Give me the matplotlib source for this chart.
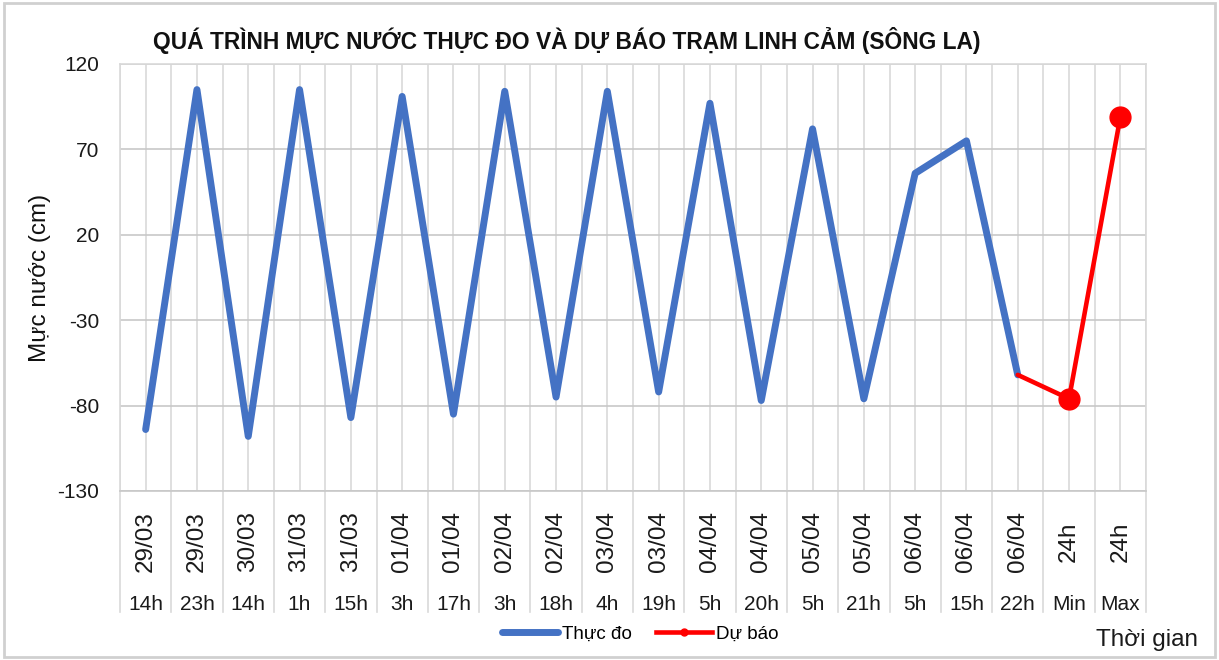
import matplotlib
matplotlib.use("Agg")
import matplotlib.pyplot as plt
import matplotlib.transforms as mtransforms
from matplotlib.lines import Line2D
from matplotlib.patches import Rectangle
import numpy as np

# ---- data ----
dates = ["29/03", "29/03", "30/03", "31/03", "31/03", "01/04", "01/04", "02/04",
         "02/04", "03/04", "03/04", "04/04", "04/04", "05/04", "05/04", "06/04",
         "06/04", "06/04", "24h", "24h"]
hours = ["14h", "23h", "14h", "1h", "15h", "3h", "17h", "3h", "18h", "4h",
         "19h", "5h", "20h", "5h", "21h", "5h", "15h", "22h", "Min", "Max"]
observed = [-94, 105, -98, 105, -87, 101, -85, 104, -75, 104, -72, 97, -77, 82,
            -76, 56, 75, -62]
forecast = [-62, -76, 89]          # from 06/04 22h to Min, Max
forecast_start = 17
yticks = [120, 70, 20, -30, -80, -130]

FONT = ["Liberation Sans", "DejaVu Sans"]
plt.rcParams["font.family"] = FONT

W, H = 1219, 660
fig = plt.figure(figsize=(W / 100, H / 100), dpi=100)
L, R, T, B = 120, 1146, 64, 491
ax = fig.add_axes([L / W, 1 - B / H, (R - L) / W, (B - T) / H])

n = len(hours)
x_obs = np.arange(len(observed))
x_fc = np.arange(forecast_start, forecast_start + len(forecast))

blue = "#4472C4"
red = "#FF0000"
grid_c = "#D9D9D9"
txt_c = "#1A1A1A"

ax.plot(x_obs, observed, color=blue, lw=5.0, solid_joinstyle="round",
        solid_capstyle="round", zorder=3)
ax.plot(x_fc, forecast, color=red, lw=3.3, solid_joinstyle="round",
        solid_capstyle="round", marker="o", markersize=15, markevery=[1, 2],
        zorder=4)

ax.set_xlim(-0.5, n - 0.5)
ax.set_ylim(yticks[-1], yticks[0])
ax.set_yticks(yticks)
ax.set_yticklabels([str(v) for v in yticks], fontsize=15, color=txt_c)
ax.set_xticks([])
ax.set_xticks(np.arange(-0.5, n, 0.5), minor=True)
ax.tick_params(axis="x", which="both", length=0, labelbottom=False)
ax.tick_params(axis="y", length=0, pad=15)
ax.grid(axis="y", color="#C8C8C8", lw=1.2)
ax.grid(axis="x", which="minor", color=grid_c, lw=1.2)
for s in ["left", "right", "top"]:
    ax.spines[s].set_color(grid_c)
    ax.spines[s].set_linewidth(1.2)
ax.spines["bottom"].set_color("#C8C8C8")
ax.spines["bottom"].set_linewidth(1.2)
ax.set_axisbelow(True)

trans = mtransforms.blended_transform_factory(ax.transData, ax.transAxes)
ylow = -(612 - B) / (B - T)
for k in range(n + 1):
    ax.plot([k - 0.5, k - 0.5], [0, ylow], transform=trans, color=grid_c,
            lw=1.2, clip_on=False)
y_date = -(542 - B) / (B - T)
y_hour = -(605 - B) / (B - T)
for i in range(n):
    ax.text(i, y_date, dates[i], transform=trans, rotation=90, ha="center",
            va="center", fontsize=17.5, color=txt_c)
    ax.text(i, y_hour, hours[i], transform=trans, ha="center", va="center",
            fontsize=15, color=txt_c)

fig.text(40 / W, 1 - 278 / H, "Mực nước (cm)", rotation=90, ha="center",
         va="center", fontsize=17.5, color="#111111")
fig.text(567 / W, 1 - 40 / H,
         "QUÁ TRÌNH MỰC NƯỚC THỰC ĐO VÀ DỰ BÁO TRẠM LINH CẢM (SÔNG LA)",
         ha="center", va="center", fontsize=16.4, fontweight="bold",
         color="#111111")
fig.text(1147 / W, 1 - 640 / H, "Thời gian", ha="center", va="center",
         fontsize=17.5, color=txt_c)

handles = [Line2D([], [], color=blue, lw=5.0, solid_capstyle="round"),
           Line2D([], [], color=red, lw=3.3, marker="o", markersize=5)]
fig.legend(handles, ["Thực đo", "Dự báo"], loc="center",
           bbox_to_anchor=(640 / W, 1 - 634 / H), ncol=2, frameon=False,
           fontsize=13.5, handlelength=3.0, columnspacing=1.3,
           handletextpad=0.2)

fig.patches.append(Rectangle((4 / W, 3 / H), (1215 - 4) / W, (657 - 3) / H,
                             transform=fig.transFigure, fill=False,
                             edgecolor="#D0D0D0", lw=2))

fig.savefig("out.png", dpi=100)
